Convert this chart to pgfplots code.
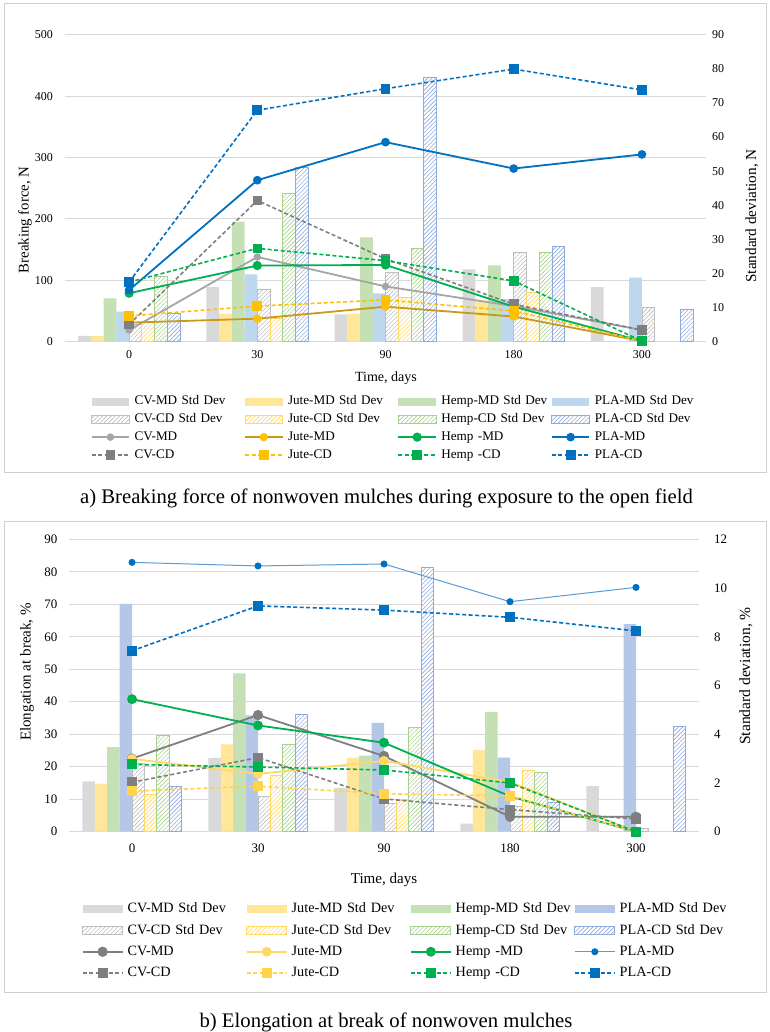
\documentclass[border=0pt]{standalone}
\usepackage{fontspec}
\setmainfont{Liberation Serif}
\usepackage{pgfplots}
\pgfplotsset{compat=1.18}
\usetikzlibrary{patterns.meta}

\definecolor{gridc}{HTML}{D9D9D9}
\definecolor{framec}{HTML}{D0D0D0}
\definecolor{cvbar}{HTML}{D9D9D9}
\definecolor{cvhatch}{HTML}{BFBFBF}
\definecolor{jutebar}{HTML}{FFE699}
\definecolor{jutehatch}{HTML}{FFD966}
\definecolor{hempbar}{HTML}{C5E0B4}
\definecolor{hemphatch}{HTML}{A9D18E}
\definecolor{plabarA}{HTML}{BDD7EE}
\definecolor{plabarB}{HTML}{B4C7E7}
\definecolor{plahatch}{HTML}{8FAADC}
\definecolor{cvmdA}{HTML}{A5A5A5}
\definecolor{cvcd}{HTML}{7F7F7F}
\definecolor{jutemdA}{HTML}{C99A1A}
\definecolor{jutecd}{HTML}{FFC000}
\definecolor{jutemdB}{HTML}{FFD966}
\definecolor{jutecdB}{HTML}{FFD34D}
\definecolor{hemp}{HTML}{00B050}
\definecolor{pla}{HTML}{0070C0}
\definecolor{plamdB}{HTML}{5B9BD5}

\tikzset{
  hatch/.style={fill=white, draw=#1, line width=0.8bp,
    postaction={pattern={Lines[angle=45,distance=3bp,line width=0.6bp]}, pattern color=#1}},
}
\pgfplotsset{
  twin/.style={scale only axis, xmin=-0.5, xmax=4.5,
    axis line style={draw=none}, major tick length=0pt, tick style={draw=none},
    /pgf/number format/assume math mode=true},
  lbA/.style={legend image code/.code={\path[draw=none,#1] (0bp,-3.8bp) rectangle (37.6bp,3.8bp);}},
  lbB/.style={legend image code/.code={\path[draw=none,#1] (0bp,-4bp) rectangle (40bp,4bp);}},
  sd/.style={dash pattern=on 4bp off 2.5bp},
}

\begin{document}
\begin{tikzpicture}
\useasboundingbox (0,0) rectangle (770bp,1032bp);
\fill[white] (0,0) rectangle (770bp,1032bp);
\draw[framec, line width=1bp] (4bp,1028bp) rectangle (766bp,559bp);
\draw[framec, line width=1bp] (4bp,510bp) rectangle (766bp,39bp);

% ---------------- panel a ----------------
\begin{axis}[twin, at={(65bp,690.3bp)}, anchor=south west, width=641bp, height=307bp,
  ymin=0, ymax=500, ytick={0,100,...,500}, ymajorgrids,
  grid style={gridc, line width=1bp},
  xtick={0,1,2,3,4}, xticklabels={0,30,90,180,300},
  ticklabel style={font=\fontsize{12}{14}\selectfont},
  yticklabel style={anchor=east, inner sep=0pt, xshift=-12bp},
  xticklabel style={anchor=center, inner sep=0pt, yshift=-13.3bp}]
\end{axis}

\begin{axis}[twin, at={(65bp,690.3bp)}, anchor=south west, width=641bp, height=307bp,
  ymin=0, ymax=90, ytick={0,10,...,90}, yticklabel pos=right, xtick=\empty,
  ticklabel style={font=\fontsize{12}{14}\selectfont},
  yticklabel style={anchor=west, inner sep=0pt, xshift=6bp}]
\addplot[ybar, bar width=12.75bp, bar shift=-44.625bp, fill=cvbar, draw=none]
  coordinates {(0,1.7) (1,16.1) (2,8.0) (3,21.2) (4,16.0)};
\addplot[ybar, bar width=12.75bp, bar shift=-31.875bp, fill=jutebar, draw=none]
  coordinates {(0,1.6) (1,8.2) (2,8.2) (3,12.0)};
\addplot[ybar, bar width=12.75bp, bar shift=-19.125bp, fill=hempbar, draw=none]
  coordinates {(0,12.7) (1,35.2) (2,30.6) (3,22.4)};
\addplot[ybar, bar width=12.75bp, bar shift=-6.375bp, fill=plabarA, draw=none]
  coordinates {(0,8.8) (1,19.7) (2,14.2) (3,12.5) (4,18.8)};
\addplot[ybar, bar width=12.75bp, bar shift=6.375bp, hatch=cvhatch]
  coordinates {(0,5.0) (1,15.2) (2,20.4) (3,26.3) (4,10.1)};
\addplot[ybar, bar width=12.75bp, bar shift=19.125bp, hatch=jutehatch]
  coordinates {(0,5.8) (1,6.8) (2,13.0) (3,14.5)};
\addplot[ybar, bar width=12.75bp, bar shift=31.875bp, hatch=hemphatch]
  coordinates {(0,19.0) (1,43.5) (2,27.3) (3,26.1)};
\addplot[ybar, bar width=12.75bp, bar shift=44.625bp, hatch=plahatch]
  coordinates {(0,8.3) (1,51.1) (2,77.6) (3,28.0) (4,9.6)};
\end{axis}

\begin{axis}[twin, at={(65bp,690.3bp)}, anchor=south west, width=641bp, height=307bp,
  ymin=0, ymax=500, xtick=\empty, ytick=\empty, clip=false,
  legend columns=4, legend cell align=left,
  legend image code/.code={\draw[mark repeat=2,mark phase=2,#1] plot coordinates {(0bp,0bp) (18.8bp,0bp) (37.6bp,0bp)};},
  legend style={at={(0.0401,-0.1668)}, anchor=north west, draw=none, fill=none,
    inner sep=0pt, outer sep=0pt, row sep=0pt, column sep=0pt,
    font=\fontsize{13.2}{15}\selectfont,
    /tikz/every odd column/.append style={column sep=4.5bp},
    nodes={inner sep=0pt, text width=109.5bp, align=left, minimum height=17.7bp,
      text height=9bp, text depth=2.5bp}}]
\addlegendimage{lbA={fill=cvbar}}\addlegendentry{CV-MD Std Dev}
\addlegendimage{lbA={fill=jutebar}}\addlegendentry{Jute-MD Std Dev}
\addlegendimage{lbA={fill=hempbar}}\addlegendentry{Hemp-MD Std Dev}
\addlegendimage{lbA={fill=plabarA}}\addlegendentry{PLA-MD Std Dev}
\addlegendimage{lbA={hatch=cvhatch}}\addlegendentry{CV-CD Std Dev}
\addlegendimage{lbA={hatch=jutehatch}}\addlegendentry{Jute-CD Std Dev}
\addlegendimage{lbA={hatch=hemphatch}}\addlegendentry{Hemp-CD Std Dev}
\addlegendimage{lbA={hatch=plahatch}}\addlegendentry{PLA-CD Std Dev}

\addplot[cvmdA, line width=1.8bp, mark=*, mark size=2.8bp, mark options={fill=cvmdA}]
  coordinates {(0,19) (1,138) (2,90) (3,58) (4,19)};
\addlegendentry{CV-MD}
\addplot[jutemdA, line width=1.8bp, mark=*, mark size=3.2bp, mark options={draw=jutecd, fill=jutecd}]
  coordinates {(0,31) (1,37.5) (2,57) (3,41) (4,1)};
\addlegendentry{Jute-MD}
\addplot[hemp, line width=1.8bp, mark=*, mark size=3.7bp, mark options={fill=hemp}]
  coordinates {(0,79) (1,124) (2,125) (3,57) (4,1)};
\addlegendentry{Hemp -MD}
\addplot[pla, line width=1.8bp, mark=*, mark size=3.4bp, mark options={fill=pla}]
  coordinates {(0,84) (1,263) (2,325) (3,282) (4,305)};
\addlegendentry{PLA-MD}
\addplot[cvcd, line width=1.6bp, sd, mark=square*, mark size=4bp, mark options={solid, fill=cvcd}]
  coordinates {(0,28) (1,230) (2,135) (3,61) (4,19)};
\addlegendentry{CV-CD}
\addplot[jutecd, line width=1.6bp, sd, mark=square*, mark size=4.1bp, mark options={solid, fill=jutecd}]
  coordinates {(0,42) (1,58) (2,68) (3,50) (4,1)};
\addlegendentry{Jute-CD}
\addplot[hemp, line width=1.6bp, sd, mark=square*, mark size=4bp, mark options={solid, fill=hemp}]
  coordinates {(0,97) (1,152) (2,132) (3,99) (4,1)};
\addlegendentry{Hemp -CD}
\addplot[pla, line width=1.6bp, sd, mark=square*, mark size=4.15bp, mark options={solid, fill=pla}]
  coordinates {(0,97) (1,377) (2,412) (3,444) (4,410)};
\addlegendentry{PLA-CD}
\end{axis}

\node[rotate=90, font=\fontsize{14.9}{17}\selectfont] at (25bp,812bp) {Breaking force, N};
\node[rotate=90, font=\fontsize{15.3}{17}\selectfont] at (752bp,816bp) {Standard deviation, N};
\node[font=\fontsize{14.1}{17}\selectfont] at (386bp,654bp) {Time, days};
\node[font=\fontsize{20.8}{24}\selectfont] at (386.5bp,534bp) {a) Breaking force of nonwoven mulches during exposure to the open field};

% ---------------- panel b ----------------
\begin{axis}[twin, at={(69bp,200.3bp)}, anchor=south west, width=630bp, height=292.4bp,
  ymin=0, ymax=90, ytick={0,10,...,90}, ymajorgrids,
  grid style={gridc, line width=1bp},
  xtick={0,1,2,3,4}, xticklabels={0,30,90,180,300},
  ticklabel style={font=\fontsize{13}{15}\selectfont},
  yticklabel style={anchor=east, inner sep=0pt, xshift=-11.5bp},
  xticklabel style={anchor=center, inner sep=0pt, yshift=-16.3bp}]
\end{axis}

\begin{axis}[twin, at={(69bp,200.3bp)}, anchor=south west, width=630bp, height=292.4bp,
  ymin=0, ymax=12, ytick={0,2,...,12}, yticklabel pos=right, xtick=\empty,
  ticklabel style={font=\fontsize{13}{15}\selectfont},
  yticklabel style={anchor=west, inner sep=0pt, xshift=15bp}]
\addplot[ybar, bar width=12.4bp, bar shift=-43.4bp, fill=cvbar, draw=none]
  coordinates {(0,2.07) (1,3.03) (2,1.8) (3,0.33) (4,1.87)};
\addplot[ybar, bar width=12.4bp, bar shift=-31bp, fill=jutebar, draw=none]
  coordinates {(0,1.97) (1,3.58) (2,3.04) (3,3.36)};
\addplot[ybar, bar width=12.4bp, bar shift=-18.6bp, fill=hempbar, draw=none]
  coordinates {(0,3.47) (1,6.5) (2,3.12) (3,4.92)};
\addplot[ybar, bar width=12.4bp, bar shift=-6.2bp, fill=plabarB, draw=none]
  coordinates {(0,9.35) (1,4.77) (2,4.47) (3,3.04) (4,8.52)};
\addplot[ybar, bar width=12.4bp, bar shift=6.2bp, hatch=cvhatch]
  coordinates {(0,2.8) (1,1.45) (2,1.15) (3,1.05) (4,0.15)};
\addplot[ybar, bar width=12.4bp, bar shift=18.6bp, hatch=jutehatch]
  coordinates {(0,1.52) (1,2.3) (2,1.28) (3,2.52)};
\addplot[ybar, bar width=12.4bp, bar shift=31bp, hatch=hemphatch]
  coordinates {(0,3.94) (1,3.6) (2,4.26) (3,2.42)};
\addplot[ybar, bar width=12.4bp, bar shift=43.4bp, hatch=plahatch]
  coordinates {(0,1.87) (1,4.82) (2,10.85) (3,1.22) (4,4.33)};
\end{axis}

\begin{axis}[twin, at={(69bp,200.3bp)}, anchor=south west, width=630bp, height=292.4bp,
  ymin=0, ymax=90, xtick=\empty, ytick=\empty, clip=false,
  legend columns=4, legend cell align=left,
  legend image code/.code={\draw[mark repeat=2,mark phase=2,#1] plot coordinates {(0bp,0bp) (20bp,0bp) (40bp,0bp)};},
  legend style={at={(0.0202,-0.2293)}, anchor=north west, draw=none, fill=none,
    inner sep=0pt, outer sep=0pt, row sep=0pt, column sep=0pt,
    font=\fontsize{14.3}{16}\selectfont,
    /tikz/every odd column/.append style={column sep=4bp},
    nodes={inner sep=0pt, text width=118.3bp, align=left, minimum height=21.2bp,
      text height=9.8bp, text depth=2.7bp}}]
\addlegendimage{lbB={fill=cvbar}}\addlegendentry{CV-MD Std Dev}
\addlegendimage{lbB={fill=jutebar}}\addlegendentry{Jute-MD Std Dev}
\addlegendimage{lbB={fill=hempbar}}\addlegendentry{Hemp-MD Std Dev}
\addlegendimage{lbB={fill=plabarB}}\addlegendentry{PLA-MD Std Dev}
\addlegendimage{lbB={hatch=cvhatch}}\addlegendentry{CV-CD Std Dev}
\addlegendimage{lbB={hatch=jutehatch}}\addlegendentry{Jute-CD Std Dev}
\addlegendimage{lbB={hatch=hemphatch}}\addlegendentry{Hemp-CD Std Dev}
\addlegendimage{lbB={hatch=plahatch}}\addlegendentry{PLA-CD Std Dev}

\addplot[cvcd, line width=1.8bp, mark=*, mark size=4.2bp, mark options={fill=cvcd}]
  coordinates {(0,22.5) (1,35.9) (2,23.3) (3,4.6) (4,4.6)};
\addlegendentry{CV-MD}
\addplot[jutemdB, line width=1.8bp, mark=*, mark size=4bp, mark options={fill=jutemdB}]
  coordinates {(0,22.4) (1,17.8) (2,21.8) (3,15.3) (4,0)};
\addlegendentry{Jute-MD}
\addplot[hemp, line width=1.8bp, mark=*, mark size=4bp, mark options={fill=hemp}]
  coordinates {(0,40.8) (1,32.7) (2,27.4) (3,10.9) (4,0)};
\addlegendentry{Hemp -MD}
\addplot[plamdB, line width=1bp, mark=*, mark size=3bp, mark options={draw=pla, fill=pla}]
  coordinates {(0,82.9) (1,81.8) (2,82.4) (3,70.8) (4,75.2)};
\addlegendentry{PLA-MD}
\addplot[cvcd, line width=1.6bp, sd, mark=square*, mark size=4.2bp, mark options={solid, fill=cvcd}]
  coordinates {(0,15.2) (1,22.8) (2,10.1) (3,6.8) (4,3.9)};
\addlegendentry{CV-CD}
\addplot[jutecdB, line width=1.6bp, sd, mark=square*, mark size=4.2bp, mark options={solid, fill=jutecdB}]
  coordinates {(0,12.5) (1,14.0) (2,11.7) (3,11.0) (4,0)};
\addlegendentry{Jute-CD}
\addplot[hemp, line width=1.6bp, sd, mark=square*, mark size=4.2bp, mark options={solid, fill=hemp}]
  coordinates {(0,20.7) (1,19.9) (2,19.0) (3,15.0) (4,0)};
\addlegendentry{Hemp -CD}
\addplot[pla, line width=1.6bp, sd, mark=square*, mark size=4.2bp, mark options={solid, fill=pla}]
  coordinates {(0,55.7) (1,69.5) (2,68.2) (3,66.0) (4,61.8)};
\addlegendentry{PLA-CD}
\end{axis}

\node[rotate=90, font=\fontsize{15.1}{17}\selectfont] at (27bp,360bp) {Elongation at break, \%};
\node[rotate=90, font=\fontsize{15.6}{17}\selectfont] at (746bp,356bp) {Standard deviation, \%};
\node[font=\fontsize{15.1}{17}\selectfont] at (384bp,152bp) {Time, days};
\node[font=\fontsize{20.8}{24}\selectfont] at (386bp,10bp) {b) Elongation at break of nonwoven mulches};
\end{tikzpicture}
\end{document}
